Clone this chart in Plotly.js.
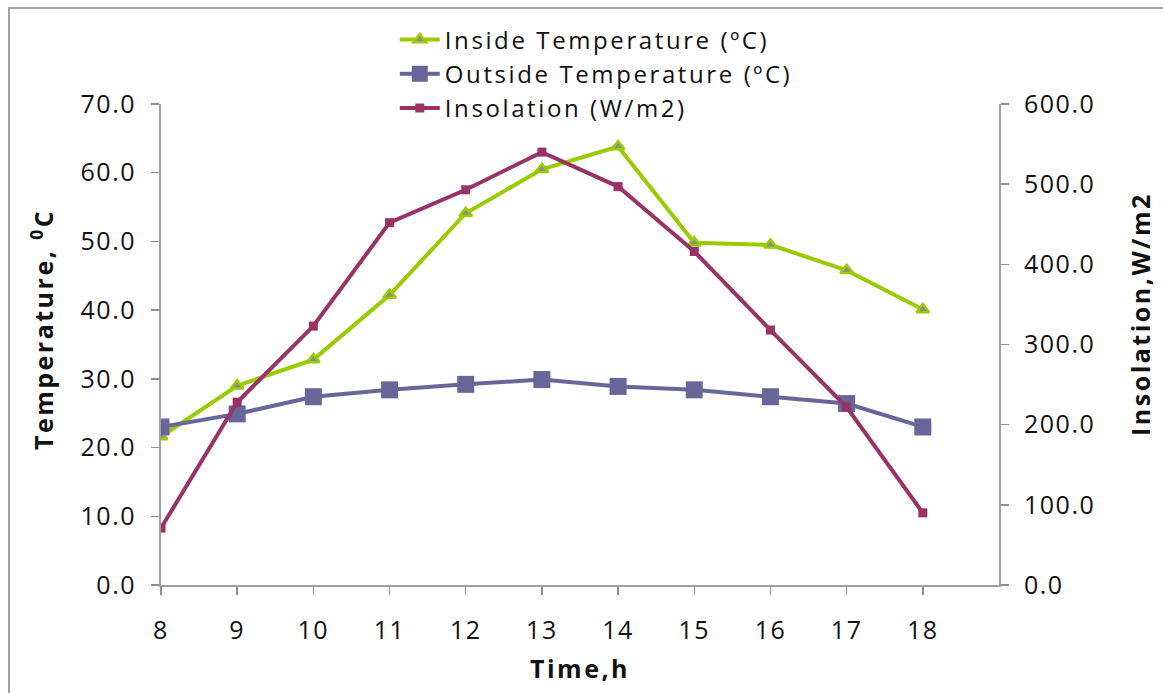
<!DOCTYPE html>
<html>
<head>
<meta charset="utf-8">
<script src="https://cdn.plot.ly/plotly-3.0.1.min.js"></script>
<style>
  html, body { margin: 0; padding: 0; overflow: hidden; background: #fff; }
  #chart { width: 1163px; height: 693px; }
  #frame { position: absolute; left: 8px; top: 7px; width: 1300px; height: 800px;
           border: 2px solid #a0a0a0; pointer-events: none; box-sizing: border-box; }
  .legendtext { letter-spacing: 2.6px; }
  .xtick text, .ytick text, .y2tick text { letter-spacing: 1.5px; }
  .annotation-text { letter-spacing: 2.5px; }
</style>
</head>
<body>
<div id="chart"></div>
<div id="frame"></div>
<script>
const hours = [8, 9, 10, 11, 12, 13, 14, 15, 16, 17, 18];
const insideTemp = [21.6, 29.0, 32.8, 42.2, 54.1, 60.5, 63.8, 49.8, 49.5, 45.8, 40.1];
const outsideTemp = [23.0, 24.9, 27.4, 28.4, 29.2, 29.9, 28.9, 28.4, 27.4, 26.4, 23.0];
const insolation = [71, 228, 323, 452, 493, 540, 497, 416, 318, 222, 90];
const seriesNames = ['Inside Temperature (ºC)', 'Outside Temperature (ºC)', 'Insolation (W/m2)'];
const tempTicks = [0, 10, 20, 30, 40, 50, 60, 70];
const insTicks = [0, 100, 200, 300, 400, 500, 600];
const xTitle = 'Time,h';
const yTitle = 'Temperature, <sup>0</sup>C';
const y2Title = 'Insolation,W/m2';

const font = 'Open Sans, Liberation Sans, sans-serif';

const traces = [
  {
    x: hours, y: insideTemp, name: seriesNames[0], type: 'scatter', mode: 'lines+markers',
    line: { color: '#99cc00', width: 4 },
    marker: { symbol: 'triangle-up', size: 11, color: '#8c8c8c', line: { color: '#99cc00', width: 2.5 } },
    yaxis: 'y'
  },
  {
    x: hours, y: outsideTemp, name: seriesNames[1], type: 'scatter', mode: 'lines+markers',
    line: { color: '#666699', width: 4 },
    marker: { symbol: 'square', size: 17, color: '#666699' },
    yaxis: 'y'
  },
  {
    x: hours, y: insolation, name: seriesNames[2], type: 'scatter', mode: 'lines+markers',
    line: { color: '#993366', width: 4 },
    marker: { symbol: 'square', size: 9, color: '#993366' },
    yaxis: 'y2'
  }
];

const axisCommon = {
  showgrid: false, zeroline: false, showline: true, linecolor: '#a0a0a0', linewidth: 2,
  ticks: 'outside', ticklen: 8, tickwidth: 1.5, tickcolor: '#909090',
  tickfont: { family: font, size: 25, color: '#111' }
};

const titleFont = { family: font, size: 25, color: '#111', weight: 'bold' };

const layout = {
  width: 1163, height: 693,
  margin: { l: 161, r: 164, t: 104, b: 108, pad: 0 },
  paper_bgcolor: '#ffffff', plot_bgcolor: '#ffffff',
  showlegend: true,
  legend: {
    x: 0.279, xanchor: 'left', y: 1.18, yanchor: 'top',
    font: { family: font, size: 24, color: '#111' },
    bgcolor: 'rgba(0,0,0,0)', tracegroupgap: 0, itemwidth: 40
  },
  xaxis: Object.assign({}, axisCommon, {
    range: [8, 19], tickvals: hours, ticktext: hours.map(String), ticklabelstandoff: 14
  }),
  yaxis: Object.assign({}, axisCommon, {
    range: [0, 70], tickvals: tempTicks, tickformat: '.1f', ticklabelstandoff: 10
  }),
  yaxis2: Object.assign({}, axisCommon, {
    range: [0, 600], tickvals: insTicks, tickformat: '.1f',
    overlaying: 'y', side: 'right', ticklabelstandoff: 10
  }),
  annotations: [
    { text: xTitle, xref: 'paper', yref: 'paper', x: 0.5, y: -0.173, xanchor: 'center', yanchor: 'middle',
      showarrow: false, font: titleFont },
    { text: yTitle, xref: 'paper', yref: 'paper', x: -0.142, y: 0.53, xanchor: 'center', yanchor: 'middle',
      textangle: -90, showarrow: false, font: titleFont },
    { text: y2Title, xref: 'paper', yref: 'paper', x: 1.168, y: 0.563, xanchor: 'center', yanchor: 'middle',
      textangle: -90, showarrow: false, font: titleFont }
  ]
};

Plotly.newPlot('chart', traces, layout, { displayModeBar: false, staticPlot: true });
</script>
</body>
</html>
